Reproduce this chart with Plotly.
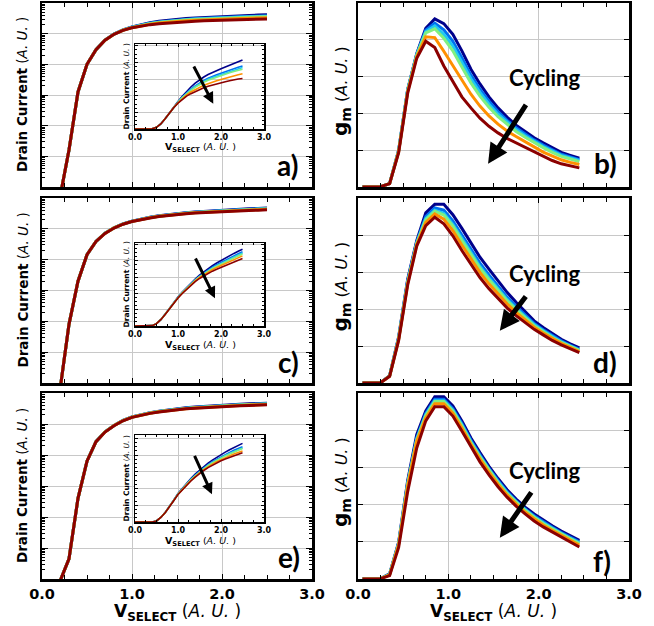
import plotly.graph_objects as go

# ---------------- data ----------------
V_I = [0.0, 0.1, 0.2, 0.3, 0.4, 0.5, 0.6, 0.7, 0.8, 0.9, 1.0, 1.1, 1.2, 1.3,
       1.4, 1.5, 1.6, 1.7, 1.8, 1.9, 2.0, 2.1, 2.2, 2.3, 2.4, 2.5]
V_GM = [0.05, 0.15, 0.25, 0.35, 0.45, 0.55, 0.65, 0.75, 0.85, 0.95, 1.05, 1.15,
        1.25, 1.35, 1.45, 1.55, 1.65, 1.75, 1.85, 1.95, 2.05, 2.15, 2.25, 2.35, 2.45]
COLORS = ['#00008B', '#0070F0', '#20C8F0', '#80F080', '#FF9000', '#8B0000']
X_TICKS = [0, 1, 2, 3]
X_TICK_TEXT = ['0.0', '1.0', '2.0', '3.0']

# drain current, panel a
I_A_NAVY = [1e-6, 1.5e-6, 4.7e-6, 1.6e-4, 0.0126, 0.10, 0.30, 0.62, 0.98, 1.33, 1.65, 1.97, 2.26, 2.52, 2.75, 2.95, 3.12, 3.27, 3.40, 3.50, 3.61, 3.72, 3.83, 3.93, 4.04, 4.14]
I_A_BLUE = [1e-6, 1.5e-6, 4.7e-6, 1.6e-4, 0.0126, 0.10, 0.30, 0.62, 0.97, 1.32, 1.62, 1.91, 2.17, 2.39, 2.59, 2.76, 2.91, 3.04, 3.16, 3.25, 3.34, 3.44, 3.53, 3.62, 3.71, 3.78]
I_A_CYAN = [1e-6, 1.5e-6, 4.7e-6, 1.6e-4, 0.0126, 0.10, 0.30, 0.62, 0.97, 1.31, 1.61, 1.89, 2.14, 2.36, 2.55, 2.71, 2.85, 2.98, 3.09, 3.18, 3.27, 3.36, 3.45, 3.53, 3.61, 3.69]
I_A_GREEN = [1e-6, 1.5e-6, 4.7e-6, 1.6e-4, 0.0126, 0.10, 0.30, 0.61, 0.96, 1.30, 1.60, 1.88, 2.12, 2.32, 2.50, 2.66, 2.80, 2.92, 3.02, 3.11, 3.20, 3.28, 3.37, 3.45, 3.52, 3.59]
I_A_ORANGE = [1e-6, 1.5e-6, 4.7e-6, 1.6e-4, 0.0126, 0.10, 0.30, 0.61, 0.96, 1.29, 1.57, 1.83, 2.04, 2.22, 2.37, 2.51, 2.63, 2.72, 2.82, 2.89, 2.97, 3.05, 3.12, 3.19, 3.25, 3.31]
I_A_RED = [1e-6, 1.5e-6, 4.7e-6, 1.6e-4, 0.0126, 0.10, 0.30, 0.61, 0.95, 1.28, 1.55, 1.78, 1.97, 2.12, 2.25, 2.37, 2.47, 2.56, 2.64, 2.71, 2.78, 2.84, 2.90, 2.96, 3.00, 3.03]

# drain current, panel c
I_C_NAVY = [1e-6, 1.5e-6, 6e-6, 8e-4, 0.02, 0.145, 0.39, 0.72, 1.08, 1.45, 1.78, 2.09, 2.37, 2.64, 2.89, 3.12, 3.33, 3.53, 3.70, 3.87, 4.03, 4.18, 4.32, 4.46, 4.59, 4.72]
I_C_BLUE = [1e-6, 1.5e-6, 6e-6, 8e-4, 0.02, 0.145, 0.39, 0.72, 1.08, 1.44, 1.76, 2.06, 2.34, 2.60, 2.84, 3.06, 3.26, 3.45, 3.61, 3.76, 3.91, 4.05, 4.18, 4.31, 4.44, 4.56]
I_C_CYAN = [1e-6, 1.5e-6, 6e-6, 8e-4, 0.02, 0.145, 0.39, 0.72, 1.07, 1.44, 1.75, 2.05, 2.32, 2.58, 2.82, 3.04, 3.23, 3.41, 3.56, 3.71, 3.85, 3.98, 4.11, 4.24, 4.36, 4.48]
I_C_GREEN = [1e-6, 1.5e-6, 6e-6, 8e-4, 0.02, 0.145, 0.39, 0.72, 1.07, 1.43, 1.75, 2.04, 2.31, 2.57, 2.80, 3.02, 3.20, 3.38, 3.53, 3.67, 3.81, 3.94, 4.06, 4.18, 4.30, 4.42]
I_C_ORANGE = [1e-6, 1.5e-6, 6e-6, 8e-4, 0.02, 0.145, 0.39, 0.71, 1.07, 1.42, 1.74, 2.03, 2.29, 2.54, 2.77, 2.98, 3.15, 3.32, 3.46, 3.60, 3.72, 3.84, 3.96, 4.08, 4.19, 4.31]
I_C_RED = [1e-6, 1.5e-6, 6e-6, 8e-4, 0.02, 0.145, 0.39, 0.71, 1.06, 1.41, 1.72, 2.00, 2.26, 2.50, 2.72, 2.92, 3.08, 3.24, 3.37, 3.49, 3.60, 3.71, 3.82, 3.93, 4.04, 4.15]

# drain current, panel e
I_E_NAVY = [1e-6, 1.5e-6, 8.5e-6, 4.5e-5, 0.004, 0.063, 0.27, 0.56, 0.90, 1.30, 1.70, 2.02, 2.32, 2.60, 2.86, 3.10, 3.32, 3.52, 3.70, 3.87, 4.03, 4.18, 4.32, 4.46, 4.58, 4.70]
I_E_BLUE = [1e-6, 1.5e-6, 8.5e-6, 4.5e-5, 0.004, 0.063, 0.27, 0.56, 0.90, 1.30, 1.68, 1.99, 2.28, 2.55, 2.80, 3.03, 3.24, 3.43, 3.60, 3.75, 3.90, 4.04, 4.16, 4.29, 4.40, 4.50]
I_E_CYAN = [1e-6, 1.5e-6, 8.5e-6, 4.5e-5, 0.004, 0.063, 0.27, 0.56, 0.90, 1.29, 1.67, 1.98, 2.26, 2.53, 2.77, 3.00, 3.20, 3.39, 3.55, 3.71, 3.85, 3.98, 4.10, 4.22, 4.32, 4.42]
I_E_GREEN = [1e-6, 1.5e-6, 8.5e-6, 4.5e-5, 0.004, 0.063, 0.27, 0.56, 0.90, 1.29, 1.67, 1.97, 2.25, 2.52, 2.76, 2.98, 3.19, 3.37, 3.54, 3.69, 3.83, 3.95, 4.07, 4.19, 4.29, 4.39]
I_E_ORANGE = [1e-6, 1.5e-6, 8.5e-6, 4.5e-5, 0.004, 0.063, 0.27, 0.55, 0.89, 1.28, 1.65, 1.95, 2.22, 2.48, 2.72, 2.93, 3.13, 3.31, 3.46, 3.61, 3.73, 3.85, 3.96, 4.07, 4.16, 4.25]
I_E_RED = [1e-6, 1.5e-6, 8.5e-6, 4.5e-5, 0.004, 0.063, 0.27, 0.55, 0.88, 1.27, 1.64, 1.93, 2.20, 2.45, 2.68, 2.89, 3.08, 3.25, 3.40, 3.54, 3.66, 3.77, 3.87, 3.97, 4.06, 4.14]

# transconductance, panel b
GM_B_NAVY = [0, 0, 0.01, 0.09, 1.00, 2.65, 3.62, 4.31, 4.57, 4.44, 4.15, 3.70, 3.20, 2.80, 2.45, 2.15, 1.90, 1.68, 1.50, 1.34, 1.20, 1.06, 0.94, 0.86, 0.78]
GM_B_BLUE = [0, 0, 0.01, 0.09, 0.99, 2.64, 3.60, 4.26, 4.45, 4.27, 3.96, 3.51, 3.04, 2.66, 2.33, 2.05, 1.81, 1.61, 1.44, 1.28, 1.14, 1.01, 0.89, 0.82, 0.74]
GM_B_CYAN = [0, 0, 0.01, 0.09, 0.98, 2.63, 3.59, 4.22, 4.38, 4.15, 3.83, 3.39, 2.94, 2.57, 2.25, 1.98, 1.76, 1.56, 1.39, 1.24, 1.10, 0.98, 0.86, 0.79, 0.72]
GM_B_GREEN = [0, 0, 0.01, 0.09, 0.98, 2.62, 3.58, 4.19, 4.30, 4.04, 3.70, 3.26, 2.83, 2.47, 2.17, 1.91, 1.70, 1.51, 1.35, 1.20, 1.07, 0.94, 0.83, 0.76, 0.69]
GM_B_ORANGE = [0, 0, 0.01, 0.09, 0.96, 2.59, 3.54, 4.08, 4.06, 3.69, 3.30, 2.89, 2.52, 2.20, 1.93, 1.71, 1.52, 1.37, 1.22, 1.09, 0.95, 0.84, 0.74, 0.67, 0.61]
GM_B_RED = [0, 0, 0.01, 0.09, 0.93, 2.55, 3.50, 3.96, 3.79, 3.29, 2.85, 2.45, 2.15, 1.87, 1.65, 1.47, 1.32, 1.20, 1.07, 0.95, 0.82, 0.72, 0.63, 0.57, 0.52]

# transconductance, panel d
GM_D_NAVY = [0, 0, 0.01, 0.20, 1.25, 2.80, 3.85, 4.60, 4.83, 4.83, 4.55, 4.18, 3.79, 3.40, 3.08, 2.75, 2.45, 2.18, 1.93, 1.68, 1.50, 1.33, 1.18, 1.06, 0.95]
GM_D_BLUE = [0, 0, 0.01, 0.19, 1.22, 2.76, 3.81, 4.50, 4.73, 4.67, 4.38, 4.00, 3.61, 3.24, 2.92, 2.61, 2.32, 2.07, 1.84, 1.61, 1.44, 1.28, 1.14, 1.02, 0.91]
GM_D_CYAN = [0, 0, 0.01, 0.19, 1.21, 2.73, 3.78, 4.44, 4.67, 4.59, 4.29, 3.91, 3.52, 3.15, 2.84, 2.54, 2.26, 2.02, 1.80, 1.58, 1.41, 1.25, 1.11, 1.00, 0.89]
GM_D_GREEN = [0, 0, 0.01, 0.19, 1.20, 2.72, 3.77, 4.41, 4.64, 4.54, 4.24, 3.85, 3.47, 3.10, 2.79, 2.49, 2.22, 1.98, 1.77, 1.55, 1.39, 1.23, 1.10, 0.98, 0.88]
GM_D_ORANGE = [0, 0, 0.01, 0.18, 1.18, 2.69, 3.74, 4.34, 4.57, 4.43, 4.12, 3.73, 3.35, 2.99, 2.68, 2.40, 2.14, 1.91, 1.71, 1.51, 1.35, 1.20, 1.07, 0.96, 0.85]
GM_D_RED = [0, 0, 0.01, 0.18, 1.15, 2.65, 3.70, 4.25, 4.48, 4.30, 3.98, 3.58, 3.20, 2.85, 2.55, 2.28, 2.03, 1.82, 1.63, 1.45, 1.30, 1.15, 1.03, 0.92, 0.82]

# transconductance, panel f
GM_F_NAVY = [0, 0, 0.01, 0.14, 0.99, 2.65, 3.88, 4.52, 4.90, 4.90, 4.65, 4.25, 3.79, 3.40, 3.03, 2.70, 2.40, 2.15, 1.93, 1.75, 1.58, 1.43, 1.29, 1.16, 1.04]
GM_F_BLUE = [0, 0, 0.01, 0.13, 0.96, 2.58, 3.79, 4.45, 4.83, 4.83, 4.58, 4.18, 3.73, 3.34, 2.97, 2.65, 2.35, 2.10, 1.88, 1.70, 1.54, 1.39, 1.25, 1.12, 1.00]
GM_F_CYAN = [0, 0, 0.01, 0.12, 0.95, 2.56, 3.76, 4.41, 4.79, 4.79, 4.54, 4.14, 3.69, 3.30, 2.94, 2.62, 2.32, 2.07, 1.86, 1.67, 1.51, 1.36, 1.22, 1.09, 0.97]
GM_F_GREEN = [0, 0, 0.01, 0.12, 0.94, 2.55, 3.74, 4.39, 4.77, 4.77, 4.52, 4.12, 3.67, 3.28, 2.92, 2.59, 2.30, 2.06, 1.84, 1.66, 1.49, 1.35, 1.21, 1.08, 0.95]
GM_F_ORANGE = [0, 0, 0.01, 0.11, 0.92, 2.50, 3.70, 4.33, 4.71, 4.71, 4.46, 4.06, 3.62, 3.23, 2.87, 2.55, 2.26, 2.02, 1.80, 1.62, 1.45, 1.31, 1.17, 1.04, 0.91]
GM_F_RED = [0, 0, 0.01, 0.09, 0.85, 2.35, 3.52, 4.25, 4.63, 4.63, 4.38, 3.98, 3.55, 3.15, 2.80, 2.48, 2.20, 1.96, 1.75, 1.56, 1.40, 1.26, 1.12, 0.99, 0.86]

CURRENTS = [
    [I_A_NAVY, I_A_BLUE, I_A_CYAN, I_A_GREEN, I_A_ORANGE, I_A_RED],
    [I_C_NAVY, I_C_BLUE, I_C_CYAN, I_C_GREEN, I_C_ORANGE, I_C_RED],
    [I_E_NAVY, I_E_BLUE, I_E_CYAN, I_E_GREEN, I_E_ORANGE, I_E_RED],
]
GMS = [
    [GM_B_NAVY, GM_B_BLUE, GM_B_CYAN, GM_B_GREEN, GM_B_ORANGE, GM_B_RED],
    [GM_D_NAVY, GM_D_BLUE, GM_D_CYAN, GM_D_GREEN, GM_D_ORANGE, GM_D_RED],
    [GM_F_NAVY, GM_F_BLUE, GM_F_CYAN, GM_F_GREEN, GM_F_ORANGE, GM_F_RED],
]
LEFT_LABELS = ['a)', 'c)', 'e)']
RIGHT_LABELS = ['b)', 'd)', 'f)']

# ---------------- layout geometry (pixels) ----------------
W, H = 654, 626
ROWS_PX = [(3, 187), (198, 383), (393, 579)]
LEFT_PX = (42, 312)
RIGHT_PX = (358, 629)
INSET_X_PX = (135, 264)
INSET_Y_PX = [(44, 129), (243, 326), (435, 522)]
INSET_YMAX = [5.1, 5.1, 5.2]
INSET_ARROWS = [((1.35, 3.84), (1.82, 1.52)), ((1.39, 4.24), (1.86, 1.71)), ((1.37, 4.04), (1.79, 1.66))]
GM_ARROWS = [((1.87, 2.27), (1.44, 0.63)), ((1.87, 2.38), (1.57, 1.41)), ((1.93, 2.37), (1.57, 1.11))]
CYCLING_PX = [(545, 78), (545, 273), (545, 470)]
LEFT_LABEL_PX = [(287, 165), (288, 362), (289, 557)]
RIGHT_LABEL_PX = [(605, 163), (605, 362), (602, 561)]


def px(x):
    return x / W


def py(y):
    return 1 - y / H


FONT = 'DejaVu Sans'
GRID = '#c8c8c8'

fig = go.Figure()
layout = dict(template='none', autosize=False, width=W, height=H,
              margin=dict(l=0, r=0, t=0, b=0, pad=0, autoexpand=False),
              paper_bgcolor='white', plot_bgcolor='white', showlegend=False,
              hovermode=False)
annotations = []


def axname(n):
    return '' if n == 1 else str(n)


def xaxis_cfg(domain, anchor, labels, inset=False):
    return dict(domain=domain, anchor=anchor, range=[0, 3], automargin=False,
                tickmode='array', tickvals=X_TICKS, ticktext=X_TICK_TEXT,
                ticks='inside', ticklen=3 if inset else 5, tickwidth=1, tickcolor='black',
                showgrid=True, gridcolor=GRID, gridwidth=1, zeroline=False,
                showline=True, linecolor='black', linewidth=1.5 if inset else 2.5,
                mirror='allticks', showticklabels=labels,
                tickfont=dict(family=FONT, size=8 if inset else 14.5, color='black', weight='bold'),
                minor=dict(dtick=0.25, tick0=0, ticks='inside', ticklen=2 if inset else 4,
                           tickcolor='black', showgrid=False))


for r in range(3):
    n_main, n_gm, n_in = 3 * r + 1, 3 * r + 2, 3 * r + 3
    top, bot = ROWS_PX[r]
    ydom = [py(bot), py(top)]
    itop, ibot = INSET_Y_PX[r]
    iydom = [py(ibot), py(itop)]
    last = r == 2

    # main log panel
    layout['xaxis' + axname(n_main)] = xaxis_cfg([px(LEFT_PX[0]), px(LEFT_PX[1])], 'y' + axname(n_main), last)
    layout['yaxis' + axname(n_main)] = dict(
        domain=ydom, anchor='x' + axname(n_main), type='log', range=[-5, 1], dtick=1,
        automargin=False,
        ticks='inside', ticklen=6, tickcolor='black', showgrid=True, gridcolor=GRID,
        showline=True, linecolor='black', linewidth=2.5, mirror='allticks',
        showticklabels=False, zeroline=False,
        minor=dict(dtick='D1', ticks='inside', ticklen=3, tickcolor='black', showgrid=False))
    # gm panel
    layout['xaxis' + axname(n_gm)] = xaxis_cfg([px(RIGHT_PX[0]), px(RIGHT_PX[1])], 'y' + axname(n_gm), last)
    layout['yaxis' + axname(n_gm)] = dict(
        domain=ydom, anchor='x' + axname(n_gm), range=[0, 5], dtick=1, automargin=False,
        ticks='inside', ticklen=5, tickcolor='black', showgrid=True, gridcolor=GRID,
        showline=True, linecolor='black', linewidth=2.5, mirror='allticks',
        showticklabels=False, zeroline=False)
    # inset
    layout['xaxis' + axname(n_in)] = xaxis_cfg([px(INSET_X_PX[0]), px(INSET_X_PX[1])], 'y' + axname(n_in), True, inset=True)
    layout['yaxis' + axname(n_in)] = dict(
        domain=iydom, anchor='x' + axname(n_in), range=[0, INSET_YMAX[r]], dtick=1, automargin=False,
        ticks='inside', ticklen=3, tickcolor='black', showgrid=True, gridcolor=GRID,
        showline=True, linecolor='black', linewidth=1.5, mirror='allticks',
        showticklabels=False, zeroline=False,
        minor=dict(dtick=0.25, ticks='inside', ticklen=2, tickcolor='black', showgrid=False))

    for k, col in enumerate(COLORS):
        fig.add_trace(go.Scatter(x=V_I, y=CURRENTS[r][k], mode='lines', line=dict(color=col, width=3),
                                 xaxis='x' + axname(n_main), yaxis='y' + axname(n_main), hoverinfo='skip'))
        fig.add_trace(go.Scatter(x=V_GM, y=GMS[r][k], mode='lines', line=dict(color=col, width=3),
                                 xaxis='x' + axname(n_gm), yaxis='y' + axname(n_gm), hoverinfo='skip'))
        fig.add_trace(go.Scatter(x=V_I, y=CURRENTS[r][k], mode='lines', line=dict(color=col, width=1.6),
                                 xaxis='x' + axname(n_in), yaxis='y' + axname(n_in), hoverinfo='skip'))

    cy = py((top + bot) / 2)
    annotations.append(dict(x=px(22), y=cy, xref='paper', yref='paper', textangle=-90,
                            text='<b>Drain Current</b> (<i>A. U.</i> )', showarrow=False,
                            font=dict(family=FONT, size=13.5, color='black'),
                            xanchor='center', yanchor='middle'))
    annotations.append(dict(x=px(341), y=py((top + bot) / 2 - 4), xref='paper', yref='paper', textangle=-90,
                            text='<span style="font-size:20px"><b>g<sub>m</sub></b></span> (<i>A. U.</i> )',
                            showarrow=False, font=dict(family=FONT, size=16, color='black'),
                            xanchor='center', yanchor='middle'))
    # inset titles
    annotations.append(dict(x=px(126), y=py((itop + ibot) / 2), xref='paper', yref='paper', textangle=-90,
                            text='<b>Drain Current</b> (<i>A. U.</i> )', showarrow=False,
                            font=dict(family=FONT, size=7.5, color='black'),
                            xanchor='center', yanchor='middle'))
    annotations.append(dict(x=px(200), y=py(ibot + 19), xref='paper', yref='paper',
                            text='<b>V<sub>SELECT</sub></b> (<i>A. U.</i> )', showarrow=False,
                            font=dict(family=FONT, size=9.5, color='black'),
                            xanchor='center', yanchor='middle'))
    # arrows
    (tx, ty), (hx, hy) = INSET_ARROWS[r]
    annotations.append(dict(x=hx, y=hy, ax=tx, ay=ty, xref='x' + axname(n_in), yref='y' + axname(n_in),
                            axref='x' + axname(n_in), ayref='y' + axname(n_in), text='', showarrow=True,
                            arrowhead=2, arrowwidth=3, arrowsize=0.75, arrowcolor='black'))
    (tx, ty), (hx, hy) = GM_ARROWS[r]
    annotations.append(dict(x=hx, y=hy, ax=tx, ay=ty, xref='x' + axname(n_gm), yref='y' + axname(n_gm),
                            axref='x' + axname(n_gm), ayref='y' + axname(n_gm), text='', showarrow=True,
                            arrowhead=2, arrowwidth=5, arrowsize=0.8, arrowcolor='black'))
    cx, cyp = CYCLING_PX[r]
    annotations.append(dict(x=px(cx), y=py(cyp), xref='paper', yref='paper', text='<b>Cycling</b>',
                            showarrow=False, font=dict(family='Lato', size=22, color='black'),
                            xanchor='center', yanchor='middle'))
    lx, ly = LEFT_LABEL_PX[r]
    annotations.append(dict(x=px(lx), y=py(ly), xref='paper', yref='paper', text='<b>%s</b>' % LEFT_LABELS[r],
                            showarrow=False, font=dict(family='Lato', size=28, color='black'),
                            xanchor='center', yanchor='middle'))
    lx, ly = RIGHT_LABEL_PX[r]
    annotations.append(dict(x=px(lx), y=py(ly), xref='paper', yref='paper', text='<b>%s</b>' % RIGHT_LABELS[r],
                            showarrow=False, font=dict(family='Lato', size=28, color='black'),
                            xanchor='center', yanchor='middle'))

for xc in [(LEFT_PX[0] + LEFT_PX[1]) / 2, (RIGHT_PX[0] + RIGHT_PX[1]) / 2]:
    annotations.append(dict(x=px(xc), y=py(612), xref='paper', yref='paper',
                            text='<b>V<sub>SELECT</sub></b> (<i>A. U.</i> )', showarrow=False,
                            font=dict(family=FONT, size=17, color='black'),
                            xanchor='center', yanchor='middle'))

layout['annotations'] = annotations
fig.update_layout(**layout)
fig.write_html('out.html', config={'displayModeBar': False, 'staticPlot': True},
               post_script="document.body.style.margin='0px';")
